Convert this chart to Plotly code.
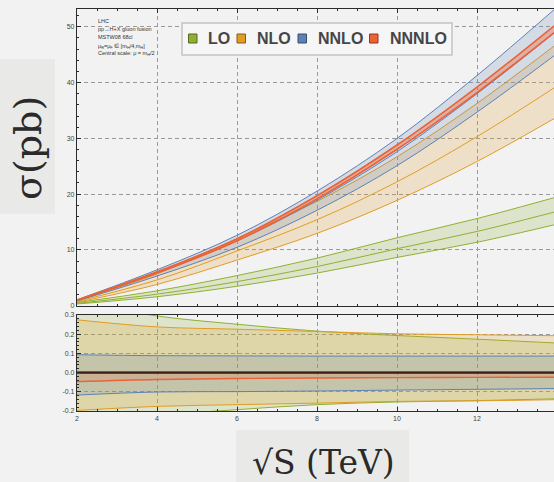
import plotly.graph_objects as go

# ---------------- data ----------------
energy = [2, 4, 6, 8, 10, 12, 14]  # sqrt(S) in TeV

lo_central = [0.40, 2.05, 4.3, 7.0, 10.2, 13.3, 16.9]
nlo_central = [0.75, 4.6, 9.8, 15.4, 22.2, 30.3, 39.4]
nnlo_central = [0.95, 5.9, 11.6, 18.9, 27.6, 38.0, 49.3]
nnnlo_central = [1.0, 6.05, 12.0, 19.7, 28.8, 39.2, 50.6]

# relative scale uncertainty (ratio panel)
lo_up = [0.37, 0.295, 0.252, 0.216, 0.193, 0.174, 0.154]
lo_dn = [-0.28, -0.225, -0.193, -0.167, -0.153, -0.146, -0.136]
nlo_up = [0.275, 0.238, 0.226, 0.214, 0.202, 0.197, 0.192]
nlo_dn = [-0.197, -0.176, -0.167, -0.159, -0.150, -0.147, -0.141]
nnlo_up = [0.093, 0.088, 0.087, 0.086, 0.086, 0.086, 0.086]
nnlo_dn = [-0.117, -0.101, -0.099, -0.096, -0.091, -0.087, -0.083]
nnnlo_up = [0.002, 0.002, 0.002, 0.002, 0.002, 0.002, 0.002]
nnnlo_dn = [-0.047, -0.036, -0.031, -0.028, -0.026, -0.025, -0.024]

orders = ["LO", "NLO", "NNLO", "NNNLO"]
x_ticks = [2, 4, 6, 8, 10, 12]
ratio_ticks = [-0.2, -0.1, 0.0, 0.1, 0.2, 0.3]
ratio_ticktext = ["-0.2", "-0.1", "0.0", "0.1", "0.2", "0.3"]
info_lines = [
    "LHC",
    "pp→H+X gluon fusion",
    "MSTW08 68cl",
    "μ<sub>R</sub>=μ<sub>F</sub> ∈ [m<sub>H</sub>/4,m<sub>H</sub>]",
    "Central scale: μ = m<sub>H</sub>/2",
]

# ---------------- style ----------------
W, H = 554, 482
BG = "#f2f2f2"
COLORS = {"LO": (143, 176, 50), "NLO": (225, 156, 36), "NNLO": (94, 129, 181), "NNNLO": (235, 98, 53)}


def rgb(c, a=None):
    if a is None:
        return "rgb(%d,%d,%d)" % c
    return "rgba(%d,%d,%d,%.2f)" % (c[0], c[1], c[2], a)


def dark(c, f=0.6):
    return "rgb(%d,%d,%d)" % tuple(int(v * f) for v in c)


def px(x):
    return x / W


def py(y):
    return 1 - y / H


fig = go.Figure()

bands = {
    "LO": (lo_central, lo_up, lo_dn),
    "NLO": (nlo_central, nlo_up, nlo_dn),
    "NNLO": (nnlo_central, nnlo_up, nnlo_dn),
    "NNNLO": (nnnlo_central, nnnlo_up, nnnlo_dn),
}

# main panel
for name in orders:
    cen, up, dn = bands[name]
    col = COLORS[name]
    upper = [c * (1 + u) for c, u in zip(cen, up)]
    lower = [c * (1 + d) for c, d in zip(cen, dn)]
    lw = 1.0 if name != "NNNLO" else 1.6
    fig.add_trace(go.Scatter(x=energy, y=lower, mode="lines", line=dict(color=rgb(col), width=lw, shape="spline"),
                             showlegend=False, hoverinfo="skip", xaxis="x", yaxis="y"))
    if name == "NNNLO":
        fig.add_trace(go.Scatter(x=energy, y=cen, mode="lines", line=dict(color=rgb(col), width=lw, shape="spline"),
                                 fill="tonexty", fillcolor=rgb(col, 0.35), showlegend=False, hoverinfo="skip",
                                 xaxis="x", yaxis="y"))
    else:
        fig.add_trace(go.Scatter(x=energy, y=upper, mode="lines", line=dict(color=rgb(col), width=lw, shape="spline"),
                                 fill="tonexty", fillcolor=rgb(col, 0.2), showlegend=False, hoverinfo="skip",
                                 xaxis="x", yaxis="y"))
        fig.add_trace(go.Scatter(x=energy, y=cen, mode="lines", line=dict(color=rgb(col), width=lw, shape="spline"),
                                 showlegend=False, hoverinfo="skip", xaxis="x", yaxis="y"))

# ratio panel
for name in orders:
    cen, up, dn = bands[name]
    col = COLORS[name]
    lw = 1.0 if name != "NNNLO" else 1.4
    fig.add_trace(go.Scatter(x=energy, y=dn, mode="lines", line=dict(color=rgb(col), width=lw, shape="spline"),
                             showlegend=False, hoverinfo="skip", xaxis="x2", yaxis="y2"))
    fig.add_trace(go.Scatter(x=energy, y=up, mode="lines", line=dict(color=rgb(col), width=lw, shape="spline"),
                             fill="tonexty", fillcolor=rgb(col, 0.2), showlegend=False, hoverinfo="skip",
                             xaxis="x2", yaxis="y2"))
# central line (all orders normalised to their own central value)
fig.add_trace(go.Scatter(x=[energy[0], energy[-1]], y=[0, 0], mode="lines",
                         line=dict(color="#3a1c12", width=2.2), showlegend=False, hoverinfo="skip",
                         xaxis="x2", yaxis="y2"))

XR = [2, 2 + (554 - 77) / 40.0]
axis_common = dict(showline=True, linecolor="#2b2b2b", linewidth=1.2, ticks="inside", tickcolor="#2b2b2b",
                   ticklen=4, tickwidth=1, showgrid=True, gridcolor="#9a9a9a", griddash="4px,3px", gridwidth=1,
                   zeroline=False, tickfont=dict(family="Liberation Sans", size=7, color="#444"),
                   automargin=False)

fig.update_layout(
    width=W, height=H,
    margin=dict(l=0, r=0, t=0, b=0),
    paper_bgcolor=BG, plot_bgcolor=BG,
    showlegend=False,
    xaxis=dict(domain=[px(77), 1], range=XR, anchor="y", tickvals=x_ticks, showticklabels=False,
               mirror="ticks", minor=dict(dtick=0.5, tick0=2, ticks="inside", ticklen=2, tickcolor="#2b2b2b",
                                          showgrid=False), **axis_common),
    yaxis=dict(domain=[py(305.6), py(9)], range=[0, 53.2], anchor="x", dtick=10, tick0=0,
               minor=dict(dtick=2, ticks="inside", ticklen=2, tickcolor="#2b2b2b", showgrid=False),
               **axis_common),
    xaxis2=dict(domain=[px(77), 1], range=XR, anchor="y2", matches="x", tickvals=x_ticks,
                mirror="ticks", minor=dict(dtick=0.5, tick0=2, ticks="inside", ticklen=2, tickcolor="#2b2b2b",
                                           showgrid=False), **axis_common),
    yaxis2=dict(domain=[py(411), py(315)], range=[-0.2, 0.3], anchor="x2", tickvals=ratio_ticks,
                ticktext=ratio_ticktext,
                minor=dict(dtick=0.02, tick0=0, ticks="inside", ticklen=2, tickcolor="#2b2b2b", showgrid=False),
                **axis_common),
)

shapes = []
annotations = []

# axis title boxes
shapes.append(dict(type="rect", xref="paper", yref="paper", x0=px(0), x1=px(55), y0=py(214), y1=py(59),
                   fillcolor="#e9e9e7", line=dict(width=0), layer="below"))
shapes.append(dict(type="rect", xref="paper", yref="paper", x0=px(236), x1=px(409), y0=py(482), y1=py(430),
                   fillcolor="#e9e9e7", line=dict(width=0), layer="below"))
annotations.append(dict(text="σ(pb)", xref="paper", yref="paper", x=px(28), y=py(148), textangle=-90,
                        showarrow=False, xanchor="center", yanchor="middle",
                        font=dict(family="DejaVu Serif", size=38, color="#2a2a2a")))
annotations.append(dict(text="√S (TeV)", xref="paper", yref="paper", x=px(323), y=py(462),
                        showarrow=False, xanchor="center", yanchor="middle",
                        font=dict(family="DejaVu Serif", size=33, color="#2a2a2a")))

# legend box
shapes.append(dict(type="rect", xref="paper", yref="paper", x0=px(182), x1=px(452), y0=py(55), y1=py(23),
                   fillcolor="#f6f6f6", line=dict(color="#c4c4c4", width=1.5), layer="above"))
sq_x = [188.5, 237, 298, 369.5]
tx_x = [206, 255, 316, 388]
for name, sx, tx in zip(orders, sq_x, tx_x):
    col = COLORS[name]
    shapes.append(dict(type="rect", xref="paper", yref="paper", x0=px(sx), x1=px(sx + 8.5), y0=py(43),
                       y1=py(34), fillcolor=rgb(col), line=dict(color=dark(col), width=1), layer="above"))
    annotations.append(dict(text="<b>%s</b>" % name, xref="paper", yref="paper", x=px(tx), y=py(38.5),
                            xanchor="left", yanchor="middle", showarrow=False,
                            font=dict(family="Liberation Sans", size=16, color="#464646")))

# info text
info_y = [20.7, 29, 37.3, 46, 53.5]
for t, yy in zip(info_lines, info_y):
    annotations.append(dict(text=t, xref="paper", yref="paper", x=px(96), y=py(yy), xanchor="left",
                            yanchor="middle", showarrow=False,
                            font=dict(family="Liberation Sans", size=5.5, color="#333")))

fig.update_layout(shapes=shapes, annotations=annotations)
fig.write_html("out.html")
